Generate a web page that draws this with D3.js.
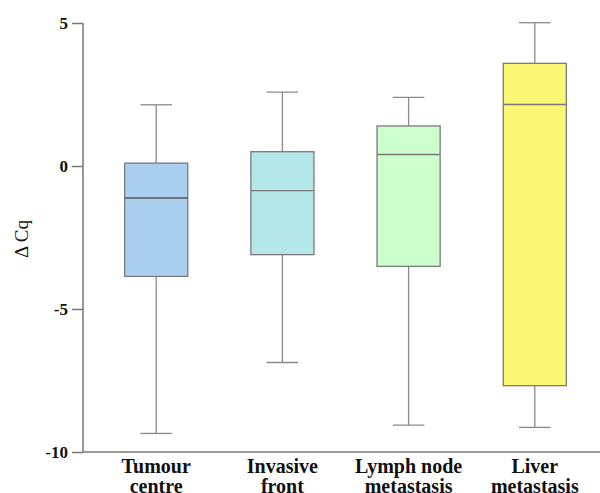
<!DOCTYPE html>
<html>
<head>
<meta charset="utf-8">
<script src="https://cdn.jsdelivr.net/npm/d3@7"></script>
<style>
  body { margin: 0; background: #fff; }
  svg { display: block; }
</style>
</head>
<body>
<svg id="chart" width="600" height="493"></svg>
<script>
// box plot values
var categories = ["Tumour centre", "Invasive front", "Lymph node metastasis", "Liver metastasis"];
var catLines = [["Tumour", "centre"], ["Invasive", "front"], ["Lymph node", "metastasis"], ["Liver", "metastasis"]];
var whiskerLow = [-9.35, -6.87, -9.06, -9.14];
var q1 = [-3.86, -3.10, -3.51, -7.68];
var median = [-1.12, -0.86, 0.40, 2.15];
var q3 = [0.10, 0.50, 1.40, 3.59];
var whiskerHigh = [2.14, 2.58, 2.40, 5.01];
var fills = ["#abcfee", "#b5e6e8", "#ccffcc", "#faf775"];
var yTicks = [5, 0, -5, -10];

var svg = d3.select("#chart");
var marginLeft = 83, plotTop = 23, plotBottom = 452;

var y = d3.scaleLinear().domain([-10, 5]).range([plotBottom, plotTop]);
var x = d3.scaleBand().domain(categories).range([marginLeft, 608]).paddingInner(0.5).paddingOuter(0.33);

var data = categories.map(function (c, i) {
  return { cat: c, lo: whiskerLow[i], q1: q1[i], med: median[i], q3: q3[i], hi: whiskerHigh[i], fill: fills[i] };
});

var g = svg.append("g");
var box = g.selectAll(".box").data(data).enter().append("g").attr("class", "box");
var bw = x.bandwidth();

// whiskers
box.append("line")
  .attr("x1", function (d) { return x(d.cat) + bw / 2; })
  .attr("x2", function (d) { return x(d.cat) + bw / 2; })
  .attr("y1", function (d) { return y(d.hi); })
  .attr("y2", function (d) { return y(d.lo); })
  .attr("stroke", "#8a8a8a").attr("stroke-width", 1.3);
["hi", "lo"].forEach(function (k) {
  box.append("line")
    .attr("x1", function (d) { return x(d.cat) + bw / 2 - bw / 4; })
    .attr("x2", function (d) { return x(d.cat) + bw / 2 + bw / 4; })
    .attr("y1", function (d) { return y(d[k]); })
    .attr("y2", function (d) { return y(d[k]); })
    .attr("stroke", "#8a8a8a").attr("stroke-width", 1.3);
});

box.append("rect")
  .attr("x", function (d) { return x(d.cat); })
  .attr("width", bw)
  .attr("y", function (d) { return y(d.q3); })
  .attr("height", function (d) { return y(d.q1) - y(d.q3); })
  .attr("fill", function (d) { return d.fill; })
  .attr("stroke", "#7a7a7a").attr("stroke-width", 1.3);

box.append("line")
  .attr("x1", function (d) { return x(d.cat); })
  .attr("x2", function (d) { return x(d.cat) + bw; })
  .attr("y1", function (d) { return y(d.med); })
  .attr("y2", function (d) { return y(d.med); })
  .attr("stroke", function (d, i) { return i == 0 ? "#555" : "#7a7a7a"; })
  .attr("stroke-width", 1.4);

// y axis (plain hyphen for negatives, like the original)
var yAxis = g.append("g")
  .attr("transform", "translate(" + marginLeft + ",0)")
  .call(d3.axisLeft(y).tickValues(yTicks).tickSize(11).tickPadding(4).tickFormat(function (d) { return String(d); }));
yAxis.select(".domain").attr("stroke", "#777").attr("stroke-width", 1.5).attr("d", "M0," + plotTop + "V" + plotBottom);
yAxis.selectAll(".tick line").attr("stroke", "#777").attr("stroke-width", 1.5);
yAxis.selectAll("text")
  .attr("font-family", "Liberation Serif, serif").attr("font-weight", "bold")
  .attr("font-size", "17px").attr("fill", "#111");

// x axis line
g.append("line").attr("x1", marginLeft).attr("x2", 600).attr("y1", plotBottom).attr("y2", plotBottom)
  .attr("stroke", "#777").attr("stroke-width", 1.5);

// category labels
var lab = g.selectAll(".cat").data(categories).enter().append("text")
  .attr("class", "cat")
  .attr("text-anchor", "middle")
  .attr("font-family", "Liberation Serif, serif").attr("font-weight", "bold")
  .attr("font-size", "20px").attr("fill", "#111")
  .attr("x", function (d) { return x(d) + bw / 2; })
  .attr("y", 473);
lab.each(function (d, i) {
  var t = d3.select(this);
  catLines[i].forEach(function (s, j) {
    t.append("tspan").attr("x", x(d) + bw / 2).attr("dy", j == 0 ? 0 : 20).text(s);
  });
});

// y label
svg.append("text")
  .attr("transform", "translate(28,239) rotate(-90)")
  .attr("text-anchor", "middle")
  .attr("font-family", "Liberation Serif, serif")
  .attr("font-size", "19px").attr("fill", "#111")
  .text("Δ Cq");
</script>
</body>
</html>
